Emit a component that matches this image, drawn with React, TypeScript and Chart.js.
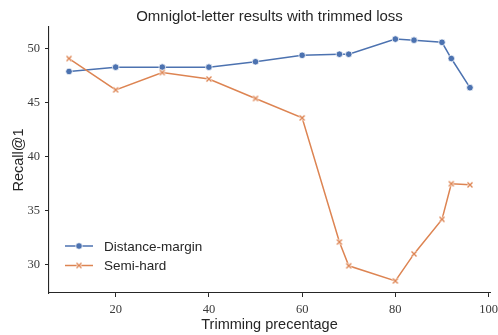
import React, { useEffect, useRef } from "react";
import { Chart, registerables } from "chart.js";

Chart.register(...registerables);

const trimPct = [10, 20, 30, 40, 50, 60, 68, 70, 80, 84, 90, 92, 96];
const distanceMargin = [47.9, 48.3, 48.3, 48.3, 48.8, 49.4, 49.5, 49.5, 50.9, 50.8, 50.6, 49.1, 46.4];
const semiHard = [49.1, 46.2, 47.8, 47.2, 45.4, 43.6, 32.1, 29.9, 28.5, 31.0, 34.2, 37.5, 37.4];
const xTicks = [20, 40, 60, 80, 100];
const yTicks = [30, 35, 40, 45, 50];

const BLUE = "#4c72b0";
const ORANGE = "#dd8452";
const INK = "#262626";
const TICKINK = "#3a3a3a";
const SANS = "'Liberation Sans', Arial, sans-serif";
const SERIF = "'Liberation Serif', 'DejaVu Serif', serif";

function makeX(size: number, color: string): HTMLCanvasElement {
  const c = document.createElement("canvas");
  c.width = size;
  c.height = size;
  const ctx = c.getContext("2d")!;
  const m = 1.5;
  ctx.lineCap = "butt";
  const draw = (w: number, col: string) => {
    ctx.strokeStyle = col;
    ctx.lineWidth = w;
    ctx.beginPath();
    ctx.moveTo(m, m);
    ctx.lineTo(size - m, size - m);
    ctx.moveTo(size - m, m);
    ctx.lineTo(m, size - m);
    ctx.stroke();
  };
  draw(2.6, "rgba(255,255,255,0.9)");
  draw(1.4, color);
  return c;
}

export default function App() {
  const ref = useRef<HTMLCanvasElement | null>(null);

  useEffect(() => {
    document.body.style.margin = "0";
    const xMarker = makeX(8, ORANGE);

    const overlay = {
      id: "overlay",
      afterDraw(chart: any) {
        const { ctx, chartArea } = chart;
        ctx.save();
        ctx.fillStyle = INK;
        ctx.font = `15px ${SANS}`;
        ctx.textAlign = "center";
        ctx.textBaseline = "middle";
        ctx.fillText("Omniglot-letter results with trimmed loss", (chartArea.left + chartArea.right) / 2, 17);
        const items = [
          { label: "Distance-margin", color: BLUE, marker: "circle" },
          { label: "Semi-hard", color: ORANGE, marker: "x" },
        ];
        const lx = chartArea.left + 16;
        let ly = chartArea.bottom - 47;
        ctx.font = `13.5px ${SANS}`;
        ctx.textAlign = "left";
        items.forEach((it) => {
          ctx.strokeStyle = it.color;
          ctx.lineWidth = 1.5;
          ctx.beginPath();
          ctx.moveTo(lx, ly);
          ctx.lineTo(lx + 28, ly);
          ctx.stroke();
          if (it.marker === "circle") {
            ctx.beginPath();
            ctx.arc(lx + 14, ly, 3.3, 0, Math.PI * 2);
            ctx.fillStyle = it.color;
            ctx.fill();
            ctx.strokeStyle = "#fff";
            ctx.lineWidth = 0.75;
            ctx.stroke();
          } else {
            ctx.drawImage(xMarker, lx + 14 - 4, ly - 4);
          }
          ctx.fillStyle = INK;
          ctx.fillText(it.label, lx + 39, ly + 1);
          ly += 19.5;
        });
        ctx.restore();
      },
    };

    const chart = new Chart(ref.current!, {
      type: "line",
      data: {
        datasets: [
          {
            label: "Distance-margin",
            data: trimPct.map((x, i) => ({ x, y: distanceMargin[i] })),
            borderColor: BLUE,
            backgroundColor: BLUE,
            borderWidth: 1.5,
            pointRadius: 3.3,
            pointBorderColor: "#fff",
            pointBorderWidth: 0.75,
            pointBackgroundColor: BLUE,
            tension: 0,
            order: 1,
          },
          {
            label: "Semi-hard",
            data: trimPct.map((x, i) => ({ x, y: semiHard[i] })),
            borderColor: ORANGE,
            backgroundColor: ORANGE,
            borderWidth: 1.5,
            pointStyle: xMarker as any,
            pointRadius: 4,
            tension: 0,
            order: 0,
          },
        ],
      },
      options: {
        animation: false,
        responsive: false,
        devicePixelRatio: 1,
        layout: { padding: { top: 27, right: 8, left: 0, bottom: 0 } },
        plugins: {
          legend: { display: false },
          title: { display: false },
          tooltip: { enabled: false },
        },
        scales: {
          x: {
            type: "linear",
            min: 5.7,
            max: 100.3,
            afterBuildTicks: (s: any) => {
              s.ticks = xTicks.map((v) => ({ value: v }));
            },
            afterFit: (s: any) => {
              s.height = 42;
              s.paddingLeft = 0;
              s.paddingRight = 0;
            },
            grid: { display: true, drawOnChartArea: false, drawTicks: true, tickLength: 4, color: INK, lineWidth: 1 },
            border: { display: true, color: INK, width: 1.1 },
            ticks: { color: TICKINK, font: { family: SERIF, size: 12.5 }, padding: 5, maxRotation: 0 },
            title: { display: true, text: "Trimming precentage", color: INK, font: { family: SANS, size: 14.5 }, padding: { top: 0, bottom: 1 } },
          },
          y: {
            type: "linear",
            min: 27.38,
            max: 52.02,
            afterBuildTicks: (s: any) => {
              s.ticks = yTicks.map((v) => ({ value: v }));
            },
            afterFit: (s: any) => {
              s.width = 49;
              s.paddingTop = 0;
              s.paddingBottom = 0;
            },
            grid: { display: true, drawOnChartArea: false, drawTicks: true, tickLength: 4, color: INK, lineWidth: 1 },
            border: { display: true, color: INK, width: 1.1 },
            ticks: { color: TICKINK, font: { family: SERIF, size: 12.5 }, padding: 5 },
            title: { display: true, text: "Recall@1", color: INK, font: { family: SANS, size: 14.5 }, padding: { top: 10, bottom: 0 } },
          },
        },
      },
      plugins: [overlay],
    });
    return () => chart.destroy();
  }, []);

  return (
    <div style={{ position: "absolute", left: 0, top: 0, width: 498, height: 335, background: "#fff" }}>
      <canvas ref={ref} width={498} height={335} style={{ display: "block" }} />
    </div>
  );
}
